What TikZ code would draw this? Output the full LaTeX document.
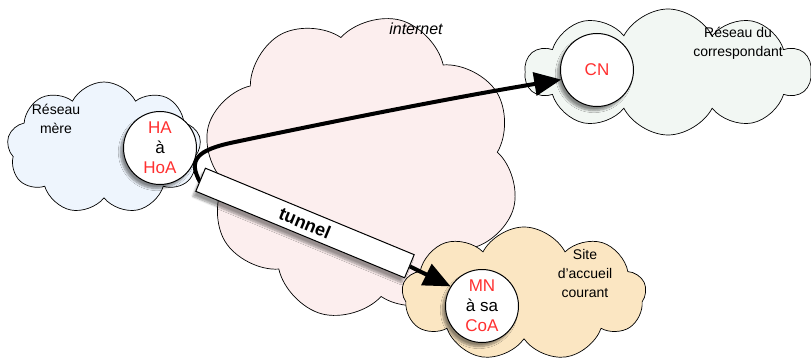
\documentclass[tikz,border=0pt]{standalone}
\usepackage{fontspec}
\setmainfont{Liberation Sans}
\usetikzlibrary{shapes.symbols, arrows.meta, shadows.blur, positioning}

\definecolor{bleuMere}{HTML}{EEF5FD}
\definecolor{roseNet}{HTML}{FCEEEE}
\definecolor{grisCorr}{HTML}{F2F7F3}
\definecolor{sableSite}{HTML}{FBE6C2}
\definecolor{rougeTxt}{HTML}{FF3030}

\begin{document}
\begin{tikzpicture}[x=1pt, y=-1pt,
    nuage/.style={cloud, cloud puffs=#1, cloud puff arc=125, draw, line width=0.7pt, inner sep=0pt},
    nuage/.default=9,
    hote/.style={circle, draw, line width=1pt, fill=white, minimum size=73pt, inner sep=0pt,
        align=center, font=\fontsize{17}{20}\selectfont,
        blur shadow={shadow xshift=-3pt, shadow yshift=-4pt, shadow opacity=45, shadow blur steps=8}},
    lbl/.style={align=center, font=\fontsize{14}{19}\selectfont},
    fleche/.style={line width=4pt, -{Triangle[length=27pt, width=23pt]}}
]
    \useasboundingbox (0,0) rectangle (811,361);

    % Les nuages (reseaux)
    \node[nuage=9, fill=bleuMere, minimum width=194pt, minimum height=132pt] (mere) at (104,148) {};
    \node[nuage=8, fill=roseNet, minimum width=316pt, minimum height=304pt, rotate=-15] (net) at (361,167) {};
    \node[nuage=10, fill=grisCorr, minimum width=286pt, minimum height=126pt] (corr) at (668,72) {};
    \node[nuage=9, fill=sableSite, minimum width=244pt, minimum height=134pt] (site) at (524,294) {};

    % Textes des nuages
    \node[lbl] (mereLbl) at (56,119) {Réseau\\mère};
    \node[lbl, font=\fontsize{16}{19}\selectfont\itshape] (netLbl) at (416,29) {internet};
    \node[lbl] (corrLbl) at (738,43) {Réseau du\\correspondant};
    \node[lbl] (siteLbl) at (585,273) {Site\\d'accueil\\courant};

    % Les hotes
    \node[hote] (ha) at (160,148) {\textcolor{rougeTxt}{HA}\\à\\\textcolor{rougeTxt}{HoA}};
    \node[hote] (cn) at (597,70) {\textcolor{rougeTxt}{CN}};
    \node[hote] (mn) at (482,306) {\textcolor{rougeTxt}{MN}\\à sa\\\textcolor{rougeTxt}{CoA}};

    % Fleche vers le correspondant
    \coordinate (depart) at (200,182);
    \draw[fleche] (depart) .. controls (188,160) and (196,150) .. (235,142)
        .. controls (330,122) and (450,98) .. (cn.195);

    % Le tunnel
    \node[draw, line width=1pt, fill=white, rotate=-22.5, minimum width=226pt, minimum height=25pt,
        inner sep=0pt, font=\fontsize{18}{20}\selectfont\bfseries,
        blur shadow={shadow xshift=-3pt, shadow yshift=-5pt, shadow opacity=40, shadow blur steps=8}]
        (tunnel) at (305,223) {tunnel};
    \draw[fleche] (tunnel.east) -- (mn.148);

\end{tikzpicture}
\end{document}
